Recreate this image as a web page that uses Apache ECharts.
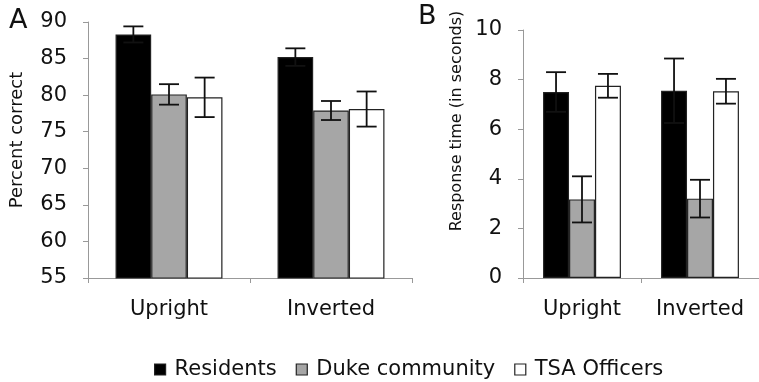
<!DOCTYPE html>
<html>
<head>
<meta charset="utf-8">
<script src="https://cdn.jsdelivr.net/npm/echarts@6/dist/echarts.min.js"></script>
<style>html,body{margin:0;padding:0;background:#fff}#c{width:759px;height:382px}</style>
</head>
<body>
<div id="c"></div>
<script>
const categories = ['Upright', 'Inverted'];
const seriesNames = ['Residents', 'Duke community', 'TSA Officers'];
// Panel A: percent correct
const accResidents = [88.3, 85.2];
const accResidentsErr = [1.1, 1.2];
const accDuke = [80.1, 77.9];
const accDukeErr = [1.4, 1.3];
const accTSA = [79.7, 78.1];
const accTSAErr = [2.7, 2.4];
// Panel B: response time (s)
const rtResidents = [7.5, 7.55];
const rtResidentsErr = [0.8, 1.3];
const rtDuke = [3.17, 3.2];
const rtDukeErr = [0.93, 0.76];
const rtTSA = [7.75, 7.53];
const rtTSAErr = [0.48, 0.5];
const accTicks = [55, 90, 5];
const rtTicks = [0, 10, 2];

const colors = ['#000000', '#a6a6a6', '#ffffff'];
const FONT = '"DejaVu Sans", sans-serif';
const BW = 0.22;

function barSeries(name, data, idx, axisIdx) {
  return {
    name: name, type: 'bar', data: data,
    xAxisIndex: axisIdx, yAxisIndex: axisIdx,
    barWidth: (BW * 100) + '%', barGap: '0%',
    itemStyle: { color: colors[idx], borderColor: '#222', borderWidth: 1.2 },
    emphasis: { disabled: true }, z: 2
  };
}
function errSeries(name, vals, errs, idx, axisIdx) {
  return {
    name: name, type: 'custom', xAxisIndex: axisIdx, yAxisIndex: axisIdx,
    data: vals.map((v, i) => [i, v - errs[i], v + errs[i]]),
    z: 5, silent: true,
    renderItem: function (params, api) {
      const band = api.size([1, 0])[0];
      const off = (idx - 1) * band * BW;
      const lo = api.coord([api.value(0), api.value(1)]);
      const hi = api.coord([api.value(0), api.value(2)]);
      const x = lo[0] + off;
      const cap = 10;
      const st = { stroke: '#111', lineWidth: 1.8 };
      return { type: 'group', children: [
        { type: 'line', shape: { x1: x, y1: lo[1], x2: x, y2: hi[1] }, style: st },
        { type: 'line', shape: { x1: x - cap, y1: lo[1], x2: x + cap, y2: lo[1] }, style: st },
        { type: 'line', shape: { x1: x - cap, y1: hi[1], x2: x + cap, y2: hi[1] }, style: st }
      ]};
    }
  };
}
function xAx(gi) {
  return {
    type: 'category', gridIndex: gi, data: categories,
    axisLine: { lineStyle: { color: '#999', width: 1 } },
    axisTick: { show: true, length: 5, lineStyle: { color: '#999' } },
    axisLabel: { color: '#111', fontSize: 21, fontFamily: FONT, margin: 21 }
  };
}
function yAx(gi, t, shift) {
  return {
    type: 'value', gridIndex: gi, min: t[0], max: t[1], interval: t[2],
    axisLine: { show: true, lineStyle: { color: '#999', width: 1 } },
    axisTick: { show: true, length: 5, lineStyle: { color: '#999' } },
    splitLine: { show: false },
    axisLabel: { color: '#111', fontSize: 21, fontFamily: FONT, margin: 21, padding: [shift, 0, 0, 0] }
  };
}

const chart = echarts.init(document.getElementById('c'), null, { renderer: 'canvas' });
chart.setOption({
  animation: false,
  backgroundColor: '#fff',
  grid: [
    { left: 88, top: 22, width: 324, height: 256 },
    { left: 523, top: 30, width: 240, height: 248 }
  ],
  xAxis: [xAx(0), xAx(1)],
  yAxis: [yAx(0, accTicks, 5), yAx(1, rtTicks, 1)],
  legend: {
    data: seriesNames.map((n, i) => ({ name: n, itemStyle: { color: colors[i], borderColor: '#222', borderWidth: 1.2 } })),
    left: 149, top: 354, icon: 'rect', itemWidth: 11, itemHeight: 11, itemGap: 19,
    textStyle: { color: '#111', fontSize: 21, fontFamily: FONT, padding: [0, 0, 0, 4] },
    selectedMode: false
  },
  graphic: [
    { type: 'text', left: 9, top: 7, style: { text: 'A', fontSize: 27, fontFamily: FONT, fill: '#111' } },
    { type: 'text', left: 418, top: 3, style: { text: 'B', fontSize: 27, fontFamily: FONT, fill: '#111' } },
    { type: 'text', x: 17, y: 140, rotation: Math.PI / 2,
      style: { text: 'Percent correct', fontSize: 18, fontFamily: FONT, fill: '#111', align: 'center', verticalAlign: 'middle' } },
    { type: 'text', x: 457, y: 121, rotation: Math.PI / 2,
      style: { text: 'Response time (in seconds)', fontSize: 16, fontFamily: FONT, fill: '#111', align: 'center', verticalAlign: 'middle' } }
  ],
  series: [
    barSeries(seriesNames[0], accResidents, 0, 0),
    barSeries(seriesNames[1], accDuke, 1, 0),
    barSeries(seriesNames[2], accTSA, 2, 0),
    errSeries(seriesNames[0], accResidents, accResidentsErr, 0, 0),
    errSeries(seriesNames[1], accDuke, accDukeErr, 1, 0),
    errSeries(seriesNames[2], accTSA, accTSAErr, 2, 0),
    barSeries(seriesNames[0], rtResidents, 0, 1),
    barSeries(seriesNames[1], rtDuke, 1, 1),
    barSeries(seriesNames[2], rtTSA, 2, 1),
    errSeries(seriesNames[0], rtResidents, rtResidentsErr, 0, 1),
    errSeries(seriesNames[1], rtDuke, rtDukeErr, 1, 1),
    errSeries(seriesNames[2], rtTSA, rtTSAErr, 2, 1)
  ]
});
</script>
</body>
</html>
